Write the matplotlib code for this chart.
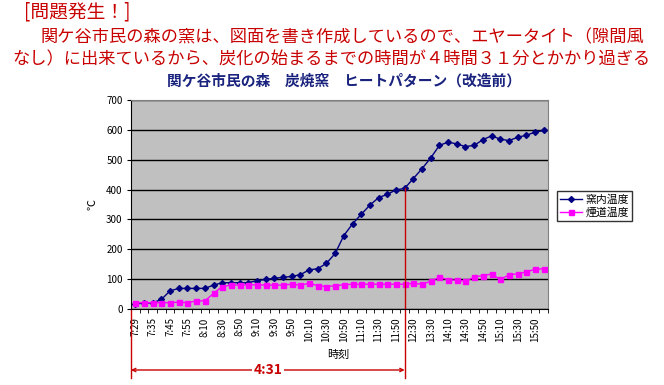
import matplotlib
matplotlib.use("Agg")
import matplotlib.pyplot as plt
import numpy as np

plt.rcParams["font.family"] = ["Noto Sans CJK JP", "DejaVu Sans"]

times = [
    "7:29", "7:32", "7:35", "7:40", "7:45", "7:50", "7:55", "8:00",
    "8:10", "8:20", "8:30", "8:40", "8:50", "9:00", "9:10", "9:20",
    "9:30", "9:40", "9:50", "10:00", "10:10", "10:20", "10:30", "10:40",
    "10:50", "11:00", "11:10", "11:20", "11:30", "11:40", "11:50", "12:00",
    "12:30", "13:00", "13:30", "13:50", "14:10", "14:20", "14:30", "14:40",
    "14:50", "15:00", "15:10", "15:20", "15:30", "15:40", "15:50", "16:00",
]
kiln_temp = [
    18, 19, 21, 32, 61, 69, 69, 69,
    69, 80, 88, 88, 88, 88, 95, 99,
    103, 106, 109, 115, 131, 135, 153, 186,
    246, 285, 317, 348, 373, 384, 399, 404,
    437, 470, 506, 548, 559, 553, 544, 548,
    567, 580, 569, 564, 575, 582, 592, 598,
]
flue_temp = [
    21, 21, 21, 21, 21, 23, 21, 27,
    27, 52, 75, 80, 80, 81, 81, 80,
    80, 80, 83, 80, 86, 78, 75, 78,
    81, 83, 83, 83, 83, 83, 83, 83,
    86, 83, 93, 107, 98, 96, 93, 107,
    112, 117, 99, 114, 118, 124, 133, 135,
]
series_names = ["窯内温度", "煙道温度"]
y_ticks = [0, 100, 200, 300, 400, 500, 600, 700]
start_index = 0
end_index = times.index("12:00")
elapsed_label = "4:31"

red = "#c80000"
W, H = 664, 385
fig = plt.figure(figsize=(W / 100, H / 100), dpi=100)
fig.patch.set_facecolor("white")

# headline text
fig.text(24 / W, 1 - 12 / H, "[問題発生！]", color=red, fontsize=13.5, va="center", ha="left")
fig.text(40 / W, 1 - 37 / H, "関ケ谷市民の森の窯は、図面を書き作成しているので、エヤータイト（隙間風",
         color=red, fontsize=12.4, va="center", ha="left")
fig.text(12 / W, 1 - 59 / H, "なし）に出来ているから、炭化の始まるまでの時間が４時間３１分とかかり過ぎる",
         color=red, fontsize=12.4, va="center", ha="left")
fig.text(344 / W, 1 - 81 / H, "関ケ谷市民の森　炭焼窯　ヒートパターン（改造前）",
         color="#1a237e", fontsize=10.6, fontweight="bold", va="center", ha="center")

left, right, top, bottom = 131, 548, 100, 309
ax = fig.add_axes([left / W, 1 - bottom / H, (right - left) / W, (bottom - top) / H])
ax.set_facecolor("#c0c0c0")

x = np.arange(len(times))
ax.plot(x, kiln_temp, color="#000080", marker="D", markersize=3, linewidth=1, label=series_names[0])
ax.plot(x, flue_temp, color="#ff00ff", marker="s", markersize=3.6, linewidth=1, label=series_names[1])

ax.set_xlim(-0.5, len(times) - 0.5)
ax.set_ylim(0, 700)
ax.set_yticks(y_ticks)
ax.yaxis.grid(True, color="black", linewidth=1)
ax.set_axisbelow(True)
ax.tick_params(axis="y", labelsize=7, length=3, pad=3)

label_pos = x[::2]
ax.set_xticks(label_pos)
ax.set_xticklabels([times[i] for i in label_pos], rotation=90, fontsize=7)
ax.set_xticks(np.arange(-0.5, len(times)), minor=True)
ax.tick_params(axis="x", which="major", length=0, pad=6)
ax.tick_params(axis="x", which="minor", length=3, direction="out")

for side in ("top", "right"):
    ax.spines[side].set_color("#808080")
for side in ("left", "bottom"):
    ax.spines[side].set_color("black")

ax.text(-(left - 92) / (right - left), 0.5, "℃", rotation=90, fontsize=8,
        transform=ax.transAxes, ha="center", va="center")
ax.text((338 - left) / (right - left), -(355 - bottom) / (bottom - top), "時刻",
        fontsize=8, transform=ax.transAxes, ha="center", va="center")

leg = ax.legend(loc="upper left", bbox_to_anchor=(557 / W, 1 - 191 / H),
                bbox_transform=fig.transFigure, fontsize=7.8, frameon=True, fancybox=False,
                borderpad=0.3, handlelength=2.0, handletextpad=0.3, labelspacing=0.2,
                borderaxespad=0)
leg.get_frame().set_edgecolor("black")
leg.get_frame().set_linewidth(1)

# elapsed time annotation
trans = ax.get_xaxis_transform()
y_low = -(378 - bottom) / (bottom - top)
y_arrow = -(370 - bottom) / (bottom - top)
ax.plot([start_index - 0.5, start_index - 0.5], [y_low, 0], transform=trans, color=red,
        linewidth=1, clip_on=False)
ax.plot([end_index, end_index], [y_low, kiln_temp[end_index] / 700], transform=trans,
        color=red, linewidth=1, clip_on=False)
ax.annotate("", xy=(end_index, y_arrow), xytext=(start_index - 0.5, y_arrow),
            xycoords=trans, textcoords=trans,
            arrowprops=dict(arrowstyle="<->", color=red, linewidth=1,
                            mutation_scale=6, shrinkA=0, shrinkB=0))
ax.text((start_index - 0.5 + end_index) / 2, y_arrow, elapsed_label, transform=trans,
        color=red, fontsize=10, fontweight="bold", ha="center", va="center",
        bbox=dict(facecolor="white", edgecolor="none", pad=1))

fig.savefig("out.png", dpi=100)
